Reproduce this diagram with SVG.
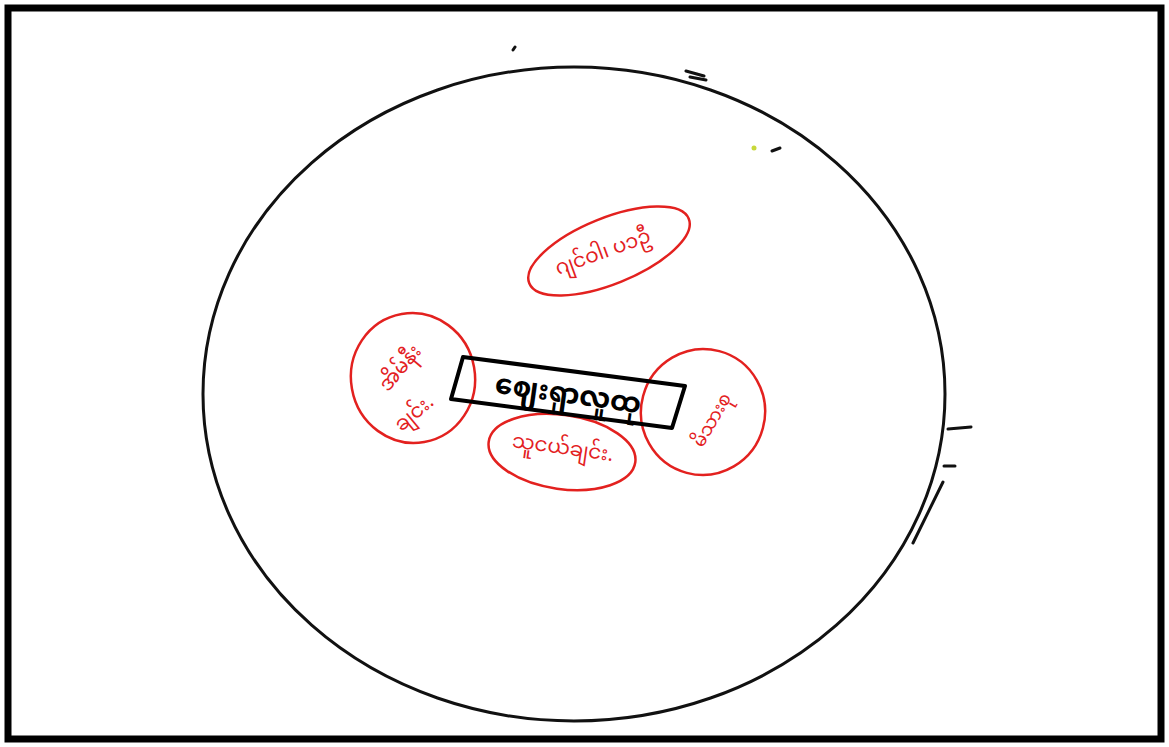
<svg xmlns="http://www.w3.org/2000/svg" width="1169" height="747" viewBox="0 0 1169 747">
<style>
.frame{fill:none;stroke:#000;stroke-width:7}
.ink{fill:none;stroke:#111;stroke-width:3;stroke-linecap:round}
.red{fill:none;stroke:#e3211f;stroke-width:2.5}
.rt{fill:#e3211f;font-family:"Noto Sans Myanmar","Padauk","Myanmar Text","Noto Sans",sans-serif;font-size:20px}
.rs{font-size:18px}
.bt{fill:#000;font-family:"Noto Sans Myanmar","Padauk","Myanmar Text","Noto Sans",sans-serif;font-size:28px;font-weight:bold}
</style>
<rect width="1169" height="747" fill="#fff"/>
<rect class="frame" x="8" y="8" width="1153" height="731"/>
<g id="outer-circle">
<ellipse class="ink" cx="574" cy="394" rx="371" ry="327"/>
<path class="ink" d="M513 50 L515 47 M686 71 L704 76 M690 77 L706 80 M948 429 L971 427 M944 466 L955 466 M943 482 L913 543" stroke-width="2.5"/>
<circle cx="754" cy="148" r="2.5" fill="#c8d83a"/>
<path class="ink" d="M772 151 L780 148" stroke-width="2"/>
</g>
<g id="node-top">
<ellipse class="red" cx="609" cy="251" rx="86" ry="33" transform="rotate(-22 609 251)"/>
<text class="rt" x="605" y="258" text-anchor="middle" transform="rotate(-20 605 258)">ဂျင်ဝါ၊ ပ၁ဦ</text>
</g>
<g id="node-left">
<ellipse class="red" cx="413" cy="378" rx="62" ry="65" transform="rotate(-10 413 378)"/>
<text class="rt" x="405" y="372" text-anchor="middle" transform="rotate(-50 405 372)">အိမ်နီး</text>
<text class="rt" x="418" y="418" text-anchor="middle" transform="rotate(-40 418 418)">ချင်း.</text>
</g>
<g id="node-right">
<ellipse class="red" cx="703" cy="412" rx="62" ry="63" transform="rotate(15 703 412)"/>
<text class="rt rs" x="712" y="426" text-anchor="middle" transform="rotate(-60 712 420)">မိသားစု</text>
</g>
<g id="node-bottom">
<ellipse class="red" cx="562" cy="452" rx="74" ry="37" transform="rotate(8 562 452)"/>
<text class="rt" x="562" y="454" text-anchor="middle" transform="rotate(8 562 454)">သူငယ်ချင်း.</text>
</g>
<g id="node-center">
<polygon points="463,357 685,386 672,428 451,399" fill="none" stroke="#000" stroke-width="4" stroke-linejoin="round"/>
<text class="bt" x="567" y="403" text-anchor="middle" transform="rotate(8 567 403)">ဈေးရှာလူထု</text>
</g>
<g id="connectors"></g>
</svg>
